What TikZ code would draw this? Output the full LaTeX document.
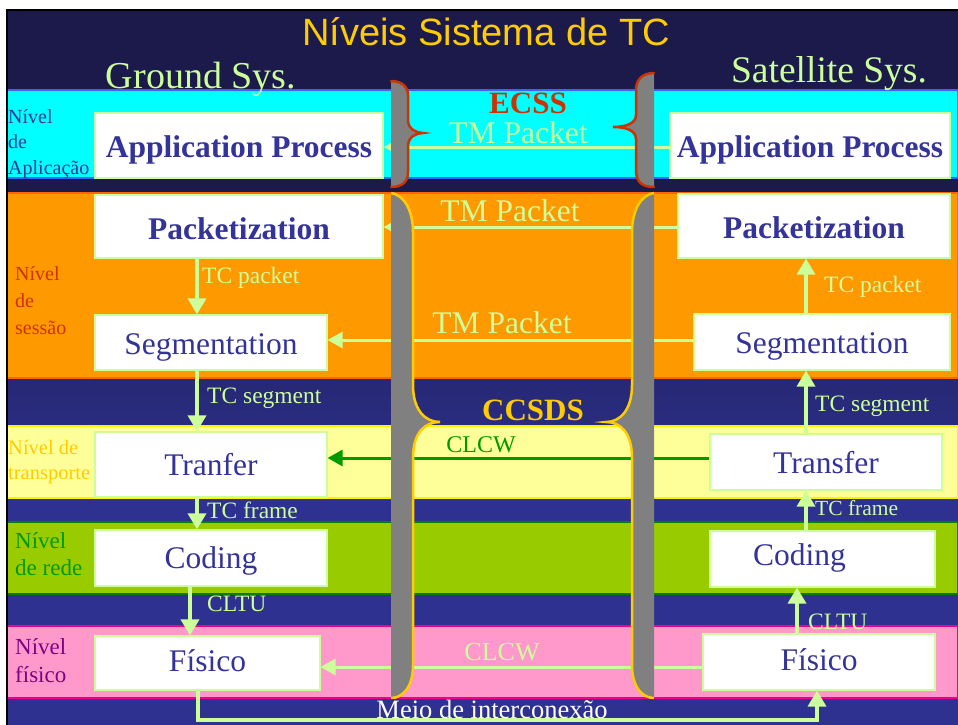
\documentclass[tikz,border=0pt]{standalone}
\usepackage{fontspec}
\setmainfont{Liberation Serif}
\newfontfamily\titlefont{Liberation Sans}
\usetikzlibrary{arrows.meta,calc}
\definecolor{navytop}{HTML}{1B1A4B}
\definecolor{navybot}{HTML}{2E3190}
\definecolor{lgreen}{HTML}{CCFF99}
\definecolor{boxblue}{HTML}{333399}
\definecolor{cyanband}{HTML}{00FFFF}
\definecolor{orangeband}{HTML}{FF9900}
\definecolor{yellowband}{HTML}{FFFF99}
\definecolor{greenband}{HTML}{99CC00}
\definecolor{pinkband}{HTML}{FF99CC}
\definecolor{ecssred}{HTML}{CC3300}
\definecolor{gold}{HTML}{FFCC00}
\definecolor{dgreen}{HTML}{009900}
\definecolor{pillar}{HTML}{808080}
\definecolor{purp}{HTML}{800080}
\newcommand\shiftdn[2]{\raisebox{-#1}[\height][\depth]{#2}}
\begin{document}
\begin{tikzpicture}[x=1pt,y=-1pt,
  box/.style={draw=lgreen, line width=1.2pt, fill=white, text=boxblue, inner sep=0pt,
    font=\fontsize{31.5}{36}\selectfont},
  boxb/.style={box, font=\fontsize{31.5}{36}\selectfont\bfseries},
  harr/.style={draw=lgreen, line width=3pt, -{Triangle[length=15pt,width=16pt]}},
  varr/.style={draw=lgreen, line width=3.5pt, -{Triangle[length=16pt,width=18pt]}},
  lbl/.style={text=lgreen, inner sep=0pt, font=\fontsize{23.5}{28}\selectfont},
  hlbl/.style={text=lgreen, inner sep=0pt, font=\fontsize{31.5}{36}\selectfont},
  lvl/.style={anchor=north west, align=left, inner sep=0pt},
  bandline/.style={line width=1.2pt}]
\useasboundingbox (0,0) rectangle (958,725);
% background
\fill[white] (0,0) rectangle (958,725);
\fill[navytop] (6,10) rectangle (958,190);
\shade[top color=navytop,bottom color=navybot] (6,190) rectangle (958,500);
\fill[navybot] (6,500) rectangle (958,725);
% bands
\filldraw[fill=cyanband, draw={rgb,255:red,51;green,102;blue,255}, bandline] (7,90) rectangle (958,178);
\filldraw[fill=orangeband, draw={rgb,255:red,255;green,102;blue,0}, bandline] (7,193) rectangle (958,378);
\filldraw[fill=yellowband, draw=yellow, bandline] (7,426) rectangle (958,498);
\filldraw[fill=greenband, draw={rgb,255:red,0;green,128;blue,0}, bandline] (7,522) rectangle (958,594);
\filldraw[fill=pinkband, draw=magenta, bandline] (7,626) rectangle (958,698);
\draw[black, line width=2.5pt] (7,725) -- (7,10) -- (958,10);
% title and headers
\node[text=gold, font=\titlefont\fontsize{38}{44}\selectfont] (title) at (486,32) {Níveis Sistema de TC};
\node[text=lgreen, font=\fontsize{38}{44}\selectfont] (ground) at (201,79) {Ground Sys.};
\node[text=lgreen, font=\fontsize{37.5}{44}\selectfont] (sat) at (829,74) {Satellite Sys.};
% level labels
\node[lvl, text=boxblue, font=\fontsize{20}{25.5}\selectfont] (lvapp) at (8,109) {Nível\\de\\Aplicação};
\node[lvl, text=ecssred, font=\fontsize{20}{27}\selectfont] (lvses) at (15,266) {Nível\\de\\sessão};
\node[lvl, text=gold, font=\fontsize{20.5}{25.5}\selectfont] (lvtra) at (8,440) {Nível de\\transporte};
\node[lvl, text=dgreen, font=\fontsize{23}{27.5}\selectfont] (lvred) at (15,532) {Nível\\de rede};
\node[lvl, text=purp, font=\fontsize{23}{28.5}\selectfont] (lvfis) at (15,638) {Nível\\físico};
% boxes left
\node[boxb, minimum width=288pt, minimum height=65pt] (Lapp) at (239,145.5) {\shiftdn{4.5pt}{Application Process}};
\node[boxb, minimum width=288pt, minimum height=63pt] (Lpack) at (239,226.5) {\shiftdn{2pt}{Packetization}};
\node[box, minimum width=232pt, minimum height=55pt] (Lseg) at (211,342.5) {\shiftdn{4.5pt}{Segmentation}};
\node[box, minimum width=232pt, minimum height=65pt] (Ltran) at (211,464.5) {Tranfer};
\node[box, minimum width=232pt, minimum height=56pt] (Lcod) at (211,558) {\shiftdn{3pt}{Coding}};
\node[box, minimum width=225pt, minimum height=54pt] (Lfis) at (207.5,663) {\shiftdn{-2pt}{Físico}};
% boxes right
\node[boxb, minimum width=280pt, minimum height=65pt] (Rapp) at (810,145.5) {\shiftdn{4.5pt}{Application Process}};
\node[boxb, minimum width=272pt, minimum height=64pt] (Rpack) at (814,226) {\shiftdn{2pt}{Packetization}};
\node[box, minimum width=256pt, minimum height=56pt] (Rseg) at (822,342) {\shiftdn{4.5pt}{Segmentation}};
\node[box, minimum width=232pt, minimum height=56pt] (Rtran) at (826,462) {\shiftdn{1pt}{Transfer}};
\node[box, minimum width=225pt, minimum height=56pt] (Rcod) at (822.5,559) {\shiftdn{-1pt}{Coding}\hspace*{46pt}};
\node[box, minimum width=232pt, minimum height=56pt] (Rfis) at (819,662) {\shiftdn{-2pt}{Físico}};
% horizontal arrows
\draw[harr] ([yshift=-1.5pt]Rapp.west) -- ([yshift=-1.5pt]Rapp.west -| Lapp.east);
\draw[harr] ([yshift=-1pt]Rpack.west) -- ([yshift=-1pt]Rpack.west -| Lpack.east);
\draw[harr] ([yshift=2pt]Rseg.west) -- ([yshift=2pt]Rseg.west -| Lseg.east);
\draw[harr, draw=dgreen] ([yshift=4pt]Rtran.west) -- ([yshift=4pt]Rtran.west -| Ltran.east);
\draw[harr] ([yshift=-5pt]Rfis.west) -- ([yshift=-5pt]Rfis.west -| Lfis.east);
% ECSS braces
\fill[pillar] (391,81) .. controls (402,81) and (408,87) .. (408,95) -- (408,120) .. controls (408,129) and (416,133) .. (423,133) .. controls (416,133) and (408,137) .. (408,146) -- (408,172) .. controls (408,182) and (402,187) .. (391,187) -- cycle;
\draw[ecssred, line width=2.5pt, line cap=round] (391,81) .. controls (402,81) and (408,87) .. (408,95) -- (408,120) .. controls (408,129) and (416,133) .. (423,133) .. controls (416,133) and (408,137) .. (408,146) -- (408,172) .. controls (408,182) and (402,187) .. (391,187);
\fill[pillar] (654,73) .. controls (642,73) and (636,80) .. (636,90) -- (636,115) .. controls (636,124) and (625,127) .. (613,127) .. controls (625,127) and (636,130) .. (636,139) -- (636,170) .. controls (636,182) and (642,187) .. (654,187) -- cycle;
\draw[ecssred, line width=2.5pt, line cap=round] (654,73) .. controls (642,73) and (636,80) .. (636,90) -- (636,115) .. controls (636,124) and (625,127) .. (613,127) .. controls (625,127) and (636,130) .. (636,139) -- (636,170) .. controls (636,182) and (642,187) .. (654,187);
% CCSDS braces
\fill[pillar] (391,193) .. controls (405,195) and (413,212) .. (413,232) -- (413,385) .. controls (413,410) and (425,422) .. (440,422) .. controls (425,422) and (413,432) .. (413,458) -- (413,665) .. controls (413,688) and (402,698) .. (391,698) -- cycle;
\draw[gold, line width=2.5pt] (391,193) .. controls (405,195) and (413,212) .. (413,232) -- (413,385) .. controls (413,410) and (425,422) .. (440,422) .. controls (425,422) and (413,432) .. (413,458) -- (413,665) .. controls (413,688) and (402,698) .. (391,698);
\fill[pillar] (654,193) .. controls (640,195) and (632,212) .. (632,232) -- (632,385) .. controls (632,410) and (620,422) .. (606,422) .. controls (620,422) and (632,432) .. (632,458) -- (632,665) .. controls (632,688) and (643,698) .. (654,698) -- cycle;
\draw[gold, line width=2.5pt] (654,193) .. controls (640,195) and (632,212) .. (632,232) -- (632,385) .. controls (632,410) and (620,422) .. (606,422) .. controls (620,422) and (632,432) .. (632,458) -- (632,665) .. controls (632,688) and (643,698) .. (654,698);
% central labels
\node[text=ecssred, inner sep=0pt, font=\fontsize{31}{36}\selectfont\bfseries] (ecss) at (528,103.5) {ECSS};
\node[text=gold, inner sep=0pt, font=\fontsize{31}{36}\selectfont\bfseries] (ccsds) at (533,410) {CCSDS};
\node[hlbl] (tm1) at (518,133) {TM Packet};
\node[hlbl] (tm2) at (510,211) {TM Packet};
\node[hlbl] (tm3) at (502,323) {TM Packet};
\node[text=dgreen, inner sep=0pt, font=\fontsize{24}{28}\selectfont] (clcw1) at (481,445) {CLCW};
\node[text=lgreen, inner sep=0pt, font=\fontsize{26}{30}\selectfont] (clcw2) at (502,652) {CLCW};
% vertical arrows left
\coordinate (xL) at (197,0);
\coordinate (xL2) at (190,0);
\draw[varr] (Lpack.south -| xL) -- (Lseg.north -| xL);
\draw[varr] (Lseg.south -| xL) -- (Ltran.north -| xL);
\draw[varr] (Ltran.south -| xL) -- (Lcod.north -| xL);
\draw[varr] (Lcod.south -| xL2) -- (Lfis.north -| xL2);
% vertical arrows right
\coordinate (xR) at (806,0);
\coordinate (xR2) at (797,0);
\draw[varr] (Rseg.north -| xR) -- (Rpack.south -| xR);
\draw[varr] (Rtran.north -| xR) -- (Rseg.south -| xR);
\draw[varr] (Rcod.north -| xR) -- (Rtran.south -| xR);
\draw[varr] (Rfis.north -| xR2) -- (Rcod.south -| xR2);
% bottom link
\coordinate (bl) at (198,720);
\coordinate (br) at (817,720);
\draw[varr] (Lfis.south -| bl) -- (bl) -- (br) -- (Rfis.south -| br);
% arrow labels
\node[lbl, anchor=west] (l1) at (202,278) {TC packet};
\node[lbl, anchor=west] (l2) at (207,398) {TC segment};
\node[lbl, anchor=west] (l3) at (207,510) {TC frame};
\node[lbl, anchor=west] (l4) at (207,604) {CLTU};
\node[lbl, anchor=west] (r1) at (824,287) {TC packet};
\node[lbl, anchor=west] (r2) at (815,406) {TC segment};
\node[lbl, anchor=west, font=\fontsize{21.5}{26}\selectfont] (r3) at (815,508) {TC frame};
\node[lbl, anchor=west] (r4) at (808,622) {CLTU};
\node[text=white, inner sep=0pt, font=\fontsize{26.5}{30}\selectfont] (meio) at (492,709) {Meio de interconexão};
\end{tikzpicture}
\end{document}
